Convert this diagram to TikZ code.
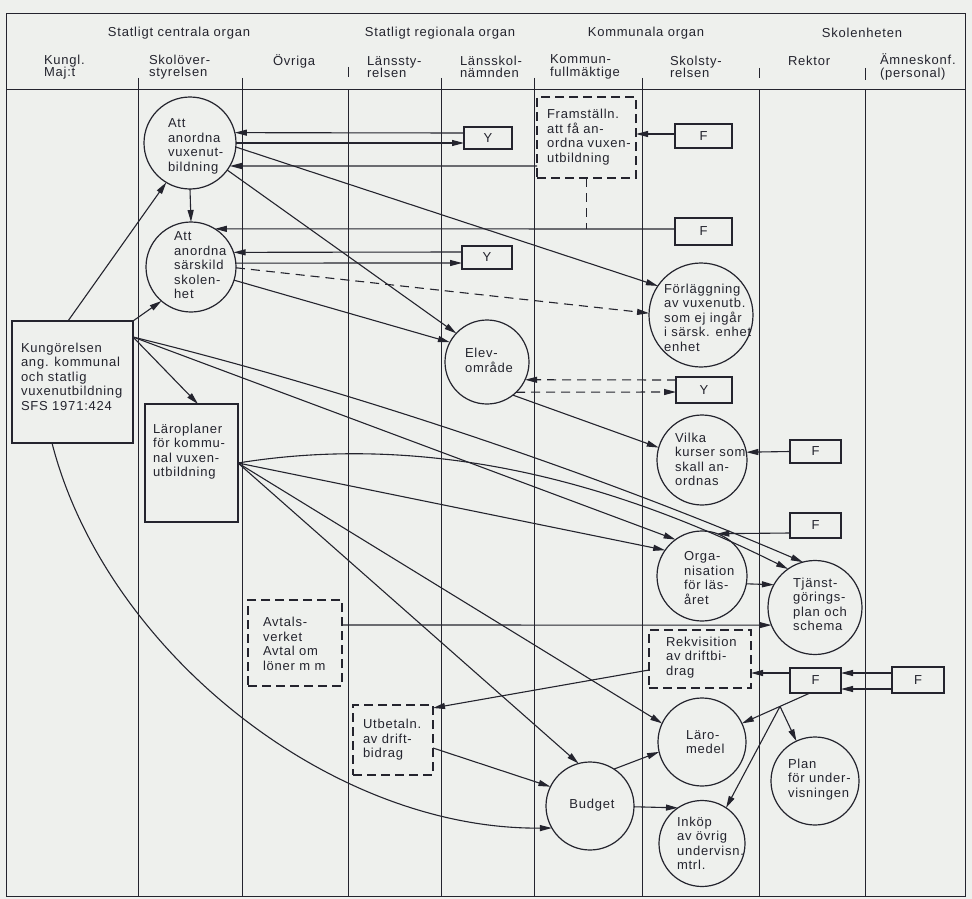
\documentclass[tikz,border=0pt]{standalone}
\usepackage{fontspec}
\setmainfont{Liberation Sans}[LetterSpace=6.0]
\usetikzlibrary{arrows.meta,calc}
\definecolor{paper}{RGB}{238,240,237}
\definecolor{ink}{RGB}{36,36,46}

\begin{document}
\begin{tikzpicture}[x=1pt,y=-1pt,
  every node/.style={inner sep=0pt, outer sep=0pt},
  txt/.style={align=left, font=\fontsize{13}{14.5}\selectfont, text=ink},
  hdr/.style={align=left, font=\fontsize{13}{12.5}\selectfont, text=ink},
  rule/.style={draw=ink, line width=0.8pt},
  bubble/.style={circle, draw=ink, line width=1.2pt},
  boxnode/.style={rectangle, draw=ink, line width=1.2pt},
  dbox/.style={boxnode, dash pattern=on 9pt off 5pt},
  tag/.style={boxnode, font=\fontsize{13}{14}\selectfont, text=ink},
  arr/.style={draw=ink, line width=1.1pt, -{Triangle[length=12pt,width=6pt]}},
  link/.style={draw=ink, line width=1.1pt},
  darr/.style={arr, dash pattern=on 9pt off 6pt},
  dlink/.style={link, dash pattern=on 9pt off 6pt},
]
\fill[paper] (0,0) rectangle (972,899);
\useasboundingbox (0,0) rectangle (972,899);

% frame, header rule and column rules
\draw[rule] (6,13) rectangle (965,896);
\draw[rule] (6,89) -- (965,89);
\foreach \x in {138,242,348,441,534,642,759,865}
  \draw[rule] (\x,89) -- (\x,896);
\foreach \x/\a/\b in {138/78/89,242/78/89,348/67/77,441/78/89,534/78/89,642/78/89,759/68/78,865/68/80}
  \draw[rule] (\x,\a) -- (\x,\b);

% header texts
\node[hdr] (g-central) at (179,33) {Statligt centrala organ};
\node[hdr] (g-region) at (440,33) {Statligt regionala organ};
\node[hdr] (g-kommun) at (646,33) {Kommunala organ};
\node[hdr] (g-skola) at (862,33) {Skolenheten};
\node[hdr, anchor=west] (h-kungl) at (44,67) {Kungl.\\Maj:t};
\node[hdr, anchor=west] (h-so) at (149,67) {Skolöver-\\styrelsen};
\node[hdr, anchor=west] (h-ovr) at (273,61) {Övriga};
\node[hdr, anchor=west] (h-lst) at (367,67) {Länssty-\\relsen};
\node[hdr, anchor=west] (h-lsn) at (460,67) {Länsskol-\\nämnden};
\node[hdr, anchor=west] (h-kf) at (550,67) {Kommun-\\fullmäktige};
\node[hdr, anchor=west] (h-ss) at (670,67) {Skolsty-\\relsen};
\node[hdr, anchor=west] (h-rek) at (788,61) {Rektor};
\node[hdr, anchor=west] (h-amn) at (880,67) {Ämneskonf.\\(personal)};

% boxes
\node[boxnode, minimum width=121pt, minimum height=122pt] (kung) at (72.5,382) {};
\node[boxnode, minimum width=93pt, minimum height=118pt] (laroplan) at (191.5,463) {};
\node[dbox, minimum width=94pt, minimum height=86pt] (avtal) at (295,643) {};
\node[dbox, minimum width=80pt, minimum height=70pt] (utbet) at (393,740) {};
\node[dbox, minimum width=99pt, minimum height=81pt] (framst) at (586.5,137.5) {};
\node[dbox, minimum width=102pt, minimum height=58pt] (rekv) at (700,659) {};

% small tags
\node[tag, minimum width=48pt, minimum height=22pt] (y1) at (488,138) {Y};
\node[tag, minimum width=50pt, minimum height=23pt] (y2) at (487,257.5) {Y};
\node[tag, minimum width=56pt, minimum height=26pt] (y3) at (704,390) {Y};
\node[tag, minimum width=57pt, minimum height=24pt] (f1) at (703.5,136) {F};
\node[tag, minimum width=57pt, minimum height=27pt] (f2) at (703.5,231.5) {F};
\node[tag, minimum width=51pt, minimum height=23pt] (f3) at (815.5,451.5) {F};
\node[tag, minimum width=51pt, minimum height=25pt] (f4) at (815.5,525.5) {F};
\node[tag, minimum width=51pt, minimum height=25pt] (f5) at (815.5,680.5) {F};
\node[tag, minimum width=52pt, minimum height=26pt] (f6) at (918,680) {F};

% circles
\node[bubble, minimum size=92pt] (anordna) at (190,143) {};
\node[bubble, minimum size=90pt] (sarskild) at (191,267) {};
\node[bubble, minimum size=104pt] (forl) at (701,315) {};
\node[bubble, minimum size=84pt] (elev) at (487,362) {};
\node[bubble, minimum size=90pt] (vilka) at (702,460) {};
\node[bubble, minimum size=90pt] (org) at (702,576) {};
\node[bubble, minimum size=94pt] (tjanst) at (815,607.5) {};
\node[bubble, minimum size=88pt] (laro) at (702,742) {};
\node[bubble, minimum size=88pt] (budget) at (590,806) {};
\node[bubble, minimum size=86pt] (inkop) at (702,843.5) {};
\node[bubble, minimum size=88pt] (plan) at (815,781) {};

% texts
\node[txt, anchor=west] (t-anordna) at (168,146.5) {Att\\anordna\\vuxenut-\\bildning};
\node[txt, anchor=west] (t-sarskild) at (174,265.5) {Att\\anordna\\särskild\\skolen-\\het};
\node[txt, anchor=west] (t-kung) at (21,376.5) {Kungörelsen\\ang. kommunal\\och statlig\\vuxenutbildning\\SFS 1971:424};
\node[txt, anchor=west] (t-laroplan) at (153,451.5) {Läroplaner\\för kommu-\\nal vuxen-\\utbildning};
\node[txt, anchor=west] (t-avtal) at (263,644) {Avtals-\\verket\\Avtal om\\löner m m};
\node[txt, anchor=west] (t-utbet) at (363,740) {Utbetaln.\\av drift-\\bidrag};
\node[txt, anchor=west] (t-framst) at (547,137) {Framställn.\\att få an-\\ordna vuxen-\\utbildning};
\node[txt, anchor=west] (t-forl) at (664,317.5) {Förläggning\\av vuxenutb.\\som ej ingår\\i särsk. enhet\\enhet};
\node[txt, anchor=west] (t-elev) at (465,360.5) {Elev-\\område};
\node[txt, anchor=west] (t-vilka) at (675,459.5) {Vilka\\kurser som\\skall an-\\ordnas};
\node[txt, anchor=west] (t-org) at (684,578) {Orga-\\nisation\\för läs-\\året};
\node[txt, anchor=west] (t-tjanst) at (793,604.5) {Tjänst-\\görings-\\plan och\\schema};
\node[txt, anchor=west] (t-rekv) at (666,657.5) {Rekvisition\\av driftbi-\\drag};
\node[txt, anchor=west] (t-laro) at (686,742) {Läro-\\medel};
\node[txt] (t-budget) at (592,805) {Budget};
\node[txt, anchor=west] (t-inkop) at (677,843.5) {Inköp\\av övrig\\undervisn.\\mtrl.};
\node[txt, anchor=west] (t-plan) at (788,779.5) {Plan\\för under-\\visningen};

% helper points
\coordinate (kp) at ($(kung.north east)+(0,16)$);
\coordinate (jn) at (586.5,229);
\coordinate (f5out) at ($(f5.south)+(-5.5,0)$);
\coordinate (br) at ($(f5out)!0.44!(laro.25)$);

% connectors, upper part
\draw[arr] ($(y1.west)+(0,-5)$) -- (anordna.13);
\draw[arr] (anordna.0) -- ($(y1.west)+(0,5)$);
\draw[arr] ($(framst.west)+(0,28.5)$) -- (anordna.-30);
\draw[arr] ($(f1.west)+(0,-2)$) -- ($(framst.east)+(0,-3.5)$);
\draw[dlink] (framst.south) -- (jn);
\draw[arr] ($(f2.west)+(0,-2.5)$) -- (sarskild.58);
\draw[arr] ($(y2.west)+(0,-5.5)$) -- (sarskild.19);
\draw[arr] (sarskild.5) -- ($(y2.west)+(0,5.5)$);
\draw[darr] (sarskild.-1) -- (forl.178);
\draw[arr] (anordna.-5) -- (forl.146);
\draw[arr] (anordna.-36) -- (elev.137);
\draw[arr] (sarskild.-17) -- (elev.152);
\draw[arr] (anordna.-90) -- (sarskild.90);
\draw[arr] ($(kung.north west)+(56,0)$) -- (anordna.-121);
\draw[arr] (kung.north east) -- (sarskild.-131);

% Elevområde
\draw[darr] ($(y3.west)+(0,-10)$) -- (elev.-25);
\draw[darr] (elev.-46) -- ($(y3.west)+(0,2)$);
\draw[arr] (elev.-52) -- (vilka.164);
\draw[arr] (f3.west) -- (vilka.10);

% from Kungörelsen and Läroplaner
\draw[arr] (kp) -- ($(laroplan.north)+(6.5,0)$);
\draw[arr] (kp) -- (org.126);
\draw[arr] (kp) .. controls (350,390) and (600,475) .. (tjanst.105);
\draw[arr] (laroplan.east) -- (org.145);
\draw[arr] (laroplan.east) .. controls (380,440) and (560,455) .. (tjanst.125);
\draw[arr] (laroplan.east) -- (laro.155);
\draw[arr] (laroplan.east) -- (budget.105);
\draw[arr] ($(kung.south west)+(40,0)$) .. controls (105,650) and (330,830) .. (budget.210);

% lower right
\draw[arr] ($(f4.west)+(0,7.5)$) -- (org.70);
\draw[arr] (org.-10) -- (tjanst.151);
\draw[arr] ($(avtal.east)+(0,-18)$) -- (tjanst.202);
\draw[arr] ($(rekv.west)+(0,11)$) -- ($(utbet.north east)+(0,3)$);
\draw[arr] ($(f5.west)+(0,-7.5)$) -- ($(rekv.east)+(0,14)$);
\draw[arr] ($(f6.west)+(0,-7)$) -- ($(f5.east)+(0,-7.5)$);
\draw[arr] ($(f6.west)+(0,9)$) -- ($(f5.east)+(0,8.5)$);
\draw[arr] (f5out) -- (laro.25);
\draw[arr] (br) -- (plan.115);
\draw[arr] (br) -- (inkop.56);
\draw[arr] ($(utbet.east)+(0,8)$) -- (budget.154);
\draw[arr] (budget.57) -- (laro.193);
\draw[arr] (budget.-1) -- (inkop.124);
\end{tikzpicture}
\end{document}
